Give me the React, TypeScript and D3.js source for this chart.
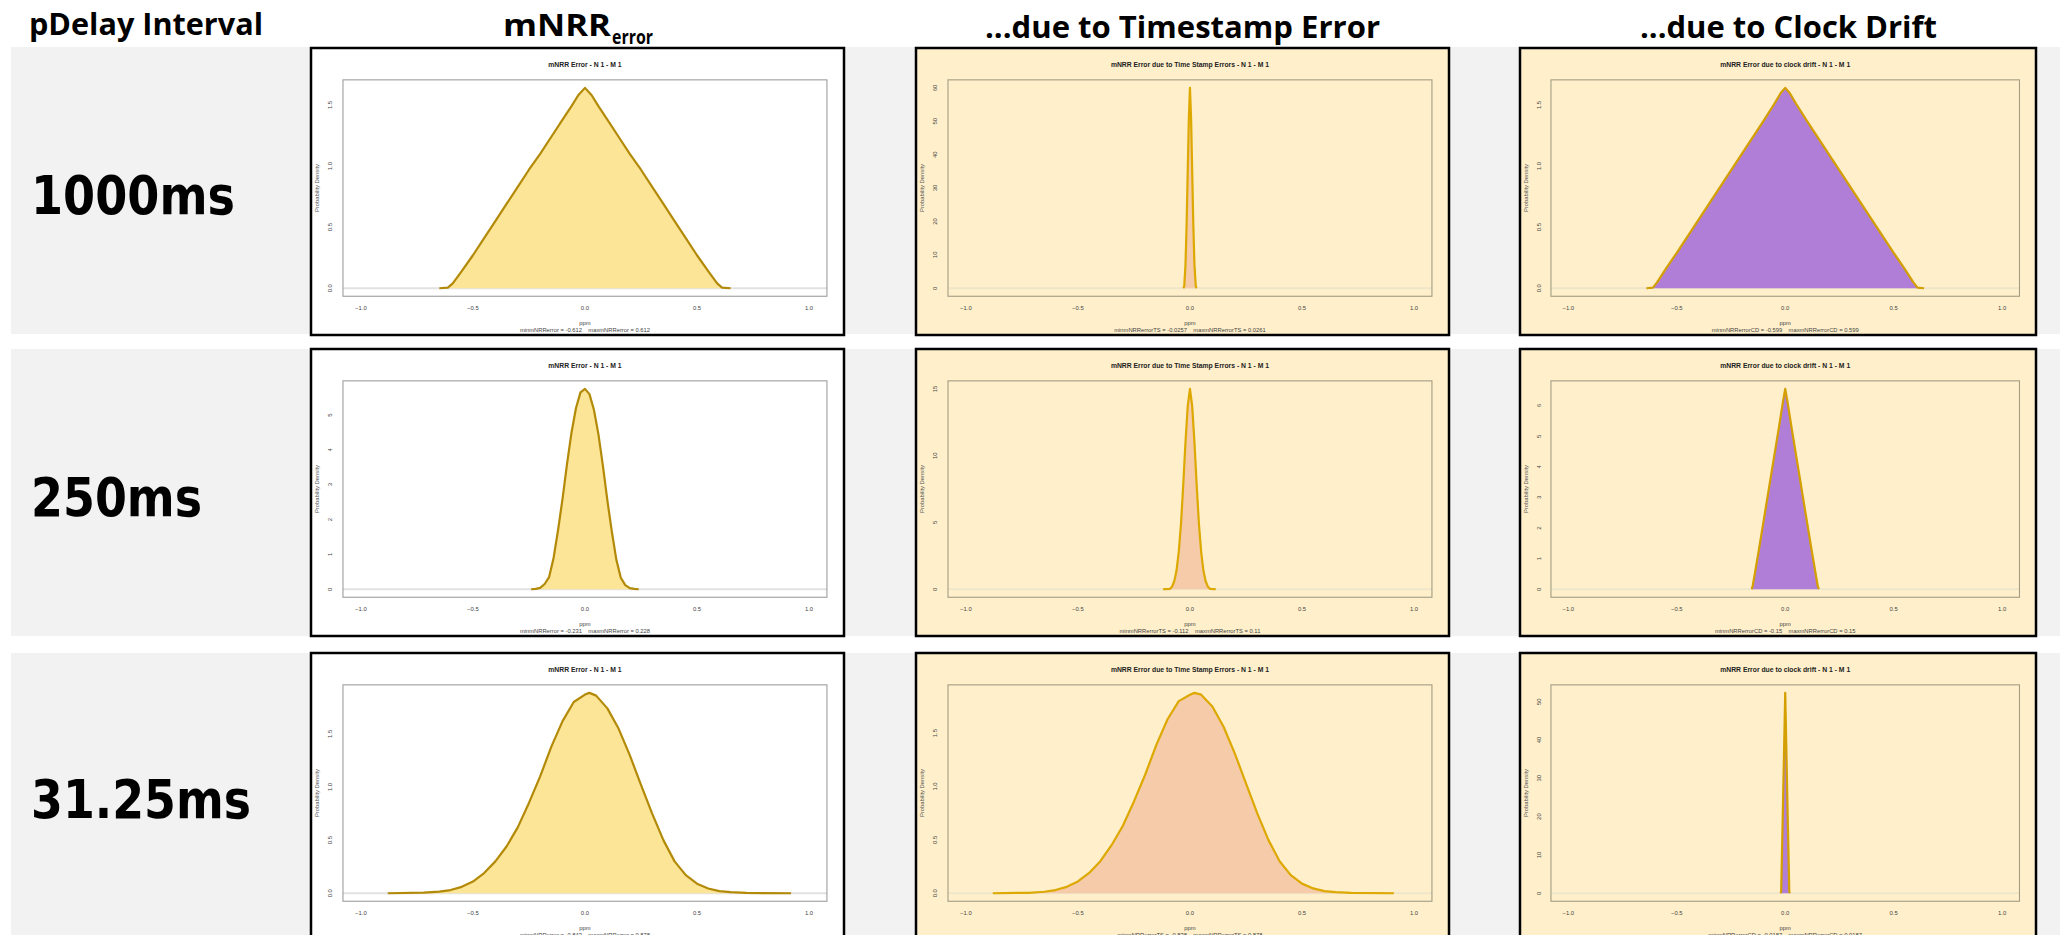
import React from "react";
import * as d3 from "d3";

// ---------- labels ----------
const rowLabels = ["1000ms", "250ms", "31.25ms"];
const headerMain = "pDelay Interval";
const colHeaders = ["mNRR", "...due to Timestamp Error", "...due to Clock Drift"];
const colHeaderSub = "error";
const panelTitles = [
  "mNRR Error - N 1 - M 1",
  "mNRR Error due to Time Stamp Errors - N 1 - M 1",
  "mNRR Error due to clock drift - N 1 - M 1",
];
const xTicks = [-1, -0.5, 0, 0.5, 1];
const xLabel = "ppm";
const yLabel = "Probability Density";

// ---------- densities (ppm, density) ----------
// row 1: 1000ms
const r1c1X = [-0.65, -0.612, -0.59, -0.55, -0.5, -0.45, -0.4, -0.35, -0.3, -0.25, -0.2, -0.15, -0.1, -0.06, -0.03, 0, 0.03, 0.06, 0.1, 0.15, 0.2, 0.25, 0.3, 0.35, 0.4, 0.45, 0.5, 0.55, 0.59, 0.612, 0.65];
const r1c1Y = [0, 0.005, 0.04, 0.14, 0.27, 0.41, 0.55, 0.69, 0.83, 0.97, 1.1, 1.24, 1.38, 1.49, 1.58, 1.64, 1.58, 1.49, 1.38, 1.24, 1.1, 0.97, 0.83, 0.69, 0.55, 0.41, 0.27, 0.14, 0.04, 0.005, 0];
const r1c2X = [-0.03, -0.0257, -0.02, -0.015, -0.01, -0.005, 0, 0.005, 0.01, 0.015, 0.02, 0.0261, 0.03];
const r1c2Y = [0, 0.5, 7, 19, 35, 51, 60, 51, 35, 19, 7, 0.5, 0];
const r1c3X = [-0.64, -0.61, -0.59, -0.55, -0.5, -0.4, -0.3, -0.2, -0.1, -0.05, -0.02, 0, 0.02, 0.05, 0.1, 0.2, 0.3, 0.4, 0.5, 0.55, 0.59, 0.61, 0.64];
const r1c3Y = [0, 0.005, 0.05, 0.16, 0.29, 0.56, 0.83, 1.1, 1.37, 1.51, 1.6, 1.64, 1.6, 1.51, 1.37, 1.1, 0.83, 0.56, 0.29, 0.16, 0.05, 0.005, 0];
// row 2: 250ms
const r2c1X = [-0.24, -0.22, -0.2, -0.18, -0.16, -0.14, -0.12, -0.1, -0.08, -0.06, -0.04, -0.02, 0, 0.02, 0.04, 0.06, 0.08, 0.1, 0.12, 0.14, 0.16, 0.18, 0.2, 0.22, 0.24];
const r2c1Y = [0, 0.01, 0.04, 0.15, 0.35, 0.9, 1.7, 2.6, 3.6, 4.5, 5.2, 5.65, 5.75, 5.6, 5.15, 4.45, 3.55, 2.55, 1.65, 0.85, 0.33, 0.12, 0.03, 0.01, 0];
const r2c2X = [-0.12, -0.11, -0.09, -0.08, -0.07, -0.06, -0.05, -0.04, -0.03, -0.02, -0.01, 0, 0.01, 0.02, 0.03, 0.04, 0.05, 0.06, 0.07, 0.08, 0.09, 0.11, 0.115];
const r2c2Y = [0, 0.01, 0.03, 0.19, 0.6, 1.4, 2.8, 4.9, 7.8, 11.0, 13.7, 15.0, 13.7, 11.0, 7.8, 4.9, 2.8, 1.4, 0.6, 0.19, 0.03, 0.01, 0];
const r2c3X = [-0.155, -0.15, -0.12, -0.09, -0.06, -0.03, -0.01, 0, 0.01, 0.03, 0.06, 0.09, 0.12, 0.15, 0.155];
const r2c3Y = [0, 0.1, 1.35, 2.65, 3.95, 5.25, 6.15, 6.55, 6.15, 5.25, 3.95, 2.65, 1.35, 0.1, 0];
// row 3: 31.25ms
const r3c1X = [-0.88, -0.72, -0.65, -0.6, -0.55, -0.5, -0.45, -0.4, -0.35, -0.3, -0.25, -0.2, -0.15, -0.1, -0.05, 0, 0.02, 0.05, 0.1, 0.15, 0.2, 0.25, 0.3, 0.35, 0.4, 0.45, 0.5, 0.55, 0.6, 0.65, 0.72, 0.92];
const r3c1Y = [0, 0.005, 0.015, 0.03, 0.06, 0.11, 0.19, 0.3, 0.44, 0.62, 0.85, 1.1, 1.38, 1.62, 1.8, 1.87, 1.886, 1.86, 1.74, 1.55, 1.3, 1.02, 0.75, 0.5, 0.3, 0.17, 0.09, 0.045, 0.02, 0.01, 0.003, 0];
const r3c2X = [-0.88, -0.72, -0.65, -0.6, -0.55, -0.5, -0.45, -0.4, -0.35, -0.3, -0.25, -0.2, -0.15, -0.1, -0.05, 0, 0.02, 0.05, 0.1, 0.15, 0.2, 0.25, 0.3, 0.35, 0.4, 0.45, 0.5, 0.55, 0.6, 0.65, 0.72, 0.91];
const r3c2Y = [0, 0.004, 0.014, 0.03, 0.06, 0.11, 0.19, 0.3, 0.45, 0.63, 0.86, 1.11, 1.39, 1.63, 1.8, 1.86, 1.877, 1.86, 1.75, 1.56, 1.31, 1.03, 0.75, 0.5, 0.3, 0.17, 0.09, 0.045, 0.02, 0.01, 0.003, 0];
const r3c3X = [-0.021, -0.0187, -0.01, 0, 0.01, 0.0187, 0.021];
const r3c3Y = [0, 0.5, 24, 52.3, 24, 0.5, 0];

// ---------- y ticks ----------
const r1c1Ticks = [0, 0.5, 1, 1.5];
const r1c2Ticks = [0, 10, 20, 30, 40, 50, 60];
const r1c3Ticks = [0, 0.5, 1, 1.5];
const r2c1Ticks = [0, 1, 2, 3, 4, 5];
const r2c2Ticks = [0, 5, 10, 15];
const r2c3Ticks = [0, 1, 2, 3, 4, 5, 6];
const r3c1Ticks = [0, 0.5, 1, 1.5];
const r3c2Ticks = [0, 0.5, 1, 1.5];
const r3c3Ticks = [0, 10, 20, 30, 40, 50];

// ---------- footers ----------
const footers = [
  ["minmNRRerror = -0.612    maxmNRRerror = 0.612", "minmNRRerrorTS = -0.0257    maxmNRRerrorTS = 0.0261", "minmNRRerrorCD = -0.599    maxmNRRerrorCD = 0.599"],
  ["minmNRRerror = -0.231    maxmNRRerror = 0.228", "minmNRRerrorTS = -0.112    maxmNRRerrorTS = 0.11", "minmNRRerrorCD = -0.15    maxmNRRerrorCD = 0.15"],
  ["minmNRRerror = -0.843    maxmNRRerror = 0.878", "minmNRRerrorTS = -0.838    maxmNRRerrorTS = 0.878", "minmNRRerrorCD = -0.0187    maxmNRRerrorCD = 0.0187"],
];

const grid = [
  [
    { x: r1c1X, y: r1c1Y, ticks: r1c1Ticks, fmt: ".1f" },
    { x: r1c2X, y: r1c2Y, ticks: r1c2Ticks, fmt: "d" },
    { x: r1c3X, y: r1c3Y, ticks: r1c3Ticks, fmt: ".1f" },
  ],
  [
    { x: r2c1X, y: r2c1Y, ticks: r2c1Ticks, fmt: "d" },
    { x: r2c2X, y: r2c2Y, ticks: r2c2Ticks, fmt: "d" },
    { x: r2c3X, y: r2c3Y, ticks: r2c3Ticks, fmt: "d" },
  ],
  [
    { x: r3c1X, y: r3c1Y, ticks: r3c1Ticks, fmt: ".1f" },
    { x: r3c2X, y: r3c2Y, ticks: r3c2Ticks, fmt: ".1f" },
    { x: r3c3X, y: r3c3Y, ticks: r3c3Ticks, fmt: "d" },
  ],
];

// ---------- layout / style ----------
const COLS = [
  { x: 311, w: 533 },
  { x: 916, w: 533 },
  { x: 1520, w: 516 },
];
const ROWS = [
  { y: 48, h: 287 },
  { y: 349, h: 287 },
  { y: 653, h: 287 },
];
const STYLE = [
  { bg: "#FFFFFF", fill: "#FDE598", stroke: "#B38A08", box: "#9E9E9E", zero: "#E2E2E2" },
  { bg: "#FFF0CB", fill: "#F6CBA9", stroke: "#DDA800", box: "#A39C84", zero: "#EFE5C8" },
  { bg: "#FFF0CB", fill: "#B07ED6", stroke: "#D49F00", box: "#A39C84", zero: "#EFE5C8" },
];
const SANS = "'Liberation Sans', Arial, sans-serif";

function Panel({ ri, ci }: { ri: number; ci: number }) {
  const { x: x0, w } = COLS[ci];
  const { y: y0, h } = ROWS[ri];
  const st = STYLE[ci];
  const d = grid[ri][ci];
  const pl = x0 + 0.06 * w;
  const pr = x0 + 0.968 * w;
  const pt = y0 + 0.111 * h;
  const pb = y0 + 0.865 * h;
  const xs = d3.scaleLinear().domain([-1.08, 1.08]).range([pl, pr]);
  const ymax = d3.max(d.y) as number;
  const ys = d3.scaleLinear().domain([-0.04 * ymax, 1.04 * ymax]).range([pb, pt]);
  const pts: [number, number][] = d.x.map((v, i) => [v, d.y[i]]);
  const area = d3
    .area<[number, number]>()
    .x((p) => xs(p[0]))
    .y0(ys(0))
    .y1((p) => ys(p[1]))(pts);
  const line = d3
    .line<[number, number]>()
    .x((p) => xs(p[0]))
    .y((p) => ys(p[1]))(pts);
  const fmt = d3.format(d.fmt);
  const cx = (pl + pr) / 2;
  const yl = x0 + 0.04 * w;
  return (
    <g>
      <rect x={x0} y={y0} width={w} height={h} fill={st.bg} stroke="#000" strokeWidth={2.5} />
      <text x={cx} y={y0 + 0.058 * h + 2.4} textAnchor="middle" fontFamily={SANS} fontWeight={700} fontSize={6.8} fill="#222">
        {panelTitles[ci]}
      </text>
      <line x1={pl} x2={pr} y1={ys(0)} y2={ys(0)} stroke={st.zero} strokeWidth={2} />
      <path d={area ?? ""} fill={st.fill} />
      <path d={line ?? ""} fill="none" stroke={st.stroke} strokeWidth={2.2} strokeLinejoin="round" />
      <rect x={pl} y={pt} width={pr - pl} height={pb - pt} fill="none" stroke={st.box} strokeWidth={1.1} />
      {xTicks.map((t) => (
        <text key={t} x={xs(t)} y={y0 + 0.905 * h + 2} textAnchor="middle" fontFamily={SANS} fontSize={5.9} fill="#444">
          {d3.format(".1f")(t)}
        </text>
      ))}
      {d.ticks.map((t) => (
        <text
          key={t}
          transform={`translate(${yl},${ys(t)}) rotate(-90)`}
          textAnchor="middle"
          fontFamily={SANS}
          fontSize={5.9}
          fill="#444"
        >
          {fmt(t)}
        </text>
      ))}
      <text
        transform={`translate(${x0 + 0.015 * w},${(pt + pb) / 2}) rotate(-90)`}
        textAnchor="middle"
        fontFamily={SANS}
        fontSize={5.8}
        fill="#555"
      >
        {yLabel}
      </text>
      <text x={cx} y={y0 + 0.958 * h + 2} textAnchor="middle" fontFamily={SANS} fontSize={5.8} fill="#444">
        {xLabel}
      </text>
      <text x={cx} y={y0 + 0.986 * h + 1.5} textAnchor="middle" fontFamily={SANS} fontSize={5.8} fill="#444" style={{ whiteSpace: "pre" }}>
        {footers[ri][ci]}
      </text>
    </g>
  );
}

export default function App() {
  const rowLabelW = [204, 171, 220];
  const rowLabelY = [214, 516, 818];
  const bands = [
    { y: 47, h: 287 },
    { y: 349, h: 287 },
    { y: 653, h: 290 },
  ];
  return (
    <div style={{ position: "absolute", left: 0, top: 0, width: 2060, height: 935, overflow: "hidden", background: "#fff" }}>
      <svg width={2060} height={935} viewBox="0 0 2060 935" style={{ display: "block" }}>
        <rect x={0} y={0} width={2060} height={935} fill="#fff" />
        {bands.map((b, i) => (
          <rect key={i} x={11} y={b.y} width={2049} height={b.h} fill="#F2F2F2" />
        ))}
        <text x={29} y={35} fontFamily="'Open Sans', sans-serif" fontWeight={700} fontSize={30} textLength={234} lengthAdjust="spacingAndGlyphs">
          {headerMain}
        </text>
        <text x={503} y={36} fontFamily="'Open Sans', sans-serif" fontWeight={700} fontSize={30} textLength={108} lengthAdjust="spacingAndGlyphs">
          {colHeaders[0]}
        </text>
        <text x={612} y={44} fontFamily="'Open Sans', sans-serif" fontWeight={700} fontSize={20} textLength={41} lengthAdjust="spacingAndGlyphs">
          {colHeaderSub}
        </text>
        <text x={985} y={38} fontFamily="'Open Sans', sans-serif" fontWeight={700} fontSize={30} textLength={395} lengthAdjust="spacingAndGlyphs">
          {colHeaders[1]}
        </text>
        <text x={1640} y={38} fontFamily="'Open Sans', sans-serif" fontWeight={700} fontSize={30} textLength={297} lengthAdjust="spacingAndGlyphs">
          {colHeaders[2]}
        </text>
        {rowLabels.map((l, i) => (
          <text key={l} x={31} y={rowLabelY[i]} fontFamily="'DejaVu Sans', Verdana, sans-serif" fontWeight={700} fontSize={54} textLength={rowLabelW[i]} lengthAdjust="spacingAndGlyphs">
            {l}
          </text>
        ))}
        {[0, 1, 2].map((ri) => [0, 1, 2].map((ci) => <Panel key={`${ri}-${ci}`} ri={ri} ci={ci} />))}
      </svg>
    </div>
  );
}
